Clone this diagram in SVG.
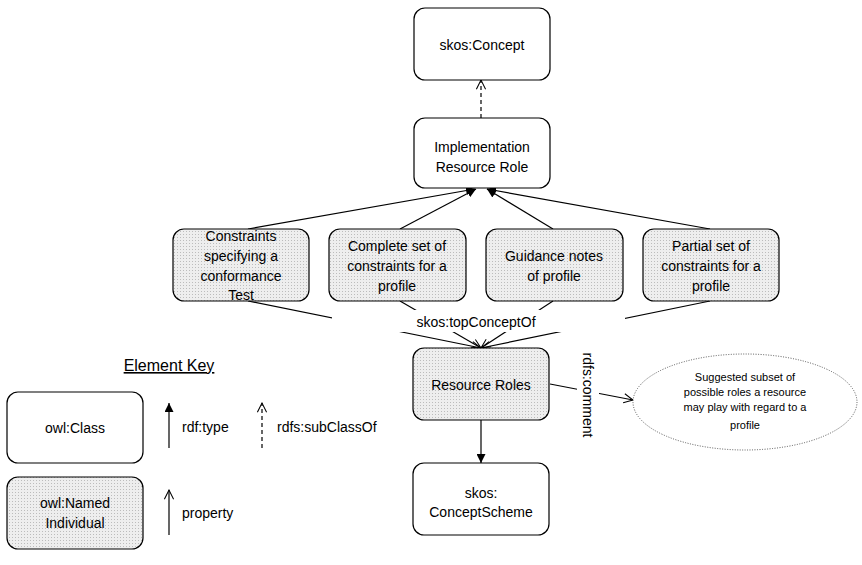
<svg xmlns="http://www.w3.org/2000/svg" width="862" height="565" viewBox="0 0 862 565">
<style>
.box{stroke:#000;stroke-width:1.2;}
.cls{fill:#fff;}
.ind{fill:url(#hatch);}
text{font-family:"Liberation Sans",Arial,sans-serif;font-size:14px;fill:#000;}
.c{text-anchor:middle;}
.ln{stroke:#000;stroke-width:1.2;fill:none;}
.dash{stroke-dasharray:4,3;}
.sm{font-size:11px;}
</style>
<defs>
<pattern id="hatch" width="3" height="3" patternUnits="userSpaceOnUse">
<rect width="3" height="3" fill="#eeeeee"/>
<rect width="1" height="1" fill="#bcbcbc"/>
</pattern>
<marker id="arrF" viewBox="0 0 10 10" refX="10" refY="5" markerWidth="9" markerHeight="9" orient="auto" markerUnits="userSpaceOnUse">
<path d="M0,0 L10,5 L0,10 z" fill="#000"/>
</marker>
<marker id="arrO" viewBox="0 0 12 12" refX="11" refY="6" markerWidth="11" markerHeight="11" orient="auto" markerUnits="userSpaceOnUse">
<path d="M1,1 L11,6 L1,11" fill="none" stroke="#000" stroke-width="1.1"/>
</marker>
</defs>
<rect width="862" height="565" fill="#fff"/>

<g id="connectors">
<line class="ln dash" x1="481" y1="118" x2="481" y2="80" marker-end="url(#arrO)"/>
<line class="ln" x1="248" y1="229" x2="475" y2="189" marker-end="url(#arrF)"/>
<line class="ln" x1="400" y1="229" x2="476" y2="189" marker-end="url(#arrF)"/>
<line class="ln" x1="553" y1="229" x2="487" y2="189" marker-end="url(#arrF)"/>
<line class="ln" x1="710" y1="229" x2="487" y2="189" marker-end="url(#arrF)"/>
<line class="ln" x1="248" y1="301" x2="481" y2="348" marker-end="url(#arrO)"/>
<line class="ln" x1="400" y1="301" x2="481" y2="348" marker-end="url(#arrO)"/>
<line class="ln" x1="553" y1="301" x2="481" y2="348" marker-end="url(#arrO)"/>
<line class="ln" x1="710" y1="301" x2="481" y2="348" marker-end="url(#arrO)"/>
<rect x="332" y="310" width="293" height="22" fill="#fff"/>
<text class="c" x="476" y="327">skos:topConceptOf</text>
<line class="ln" x1="481" y1="420" x2="481" y2="463" marker-end="url(#arrF)"/>
<line class="ln" x1="550" y1="384" x2="633" y2="400" marker-end="url(#arrO)"/>
<rect x="577" y="345" width="22" height="102" fill="#fff"/>
<text class="c" transform="translate(588,395) rotate(90)" x="0" y="5">rdfs:comment</text>
</g>

<g id="skos-concept">
<rect class="box cls" x="414" y="8" width="136" height="72" rx="11"/>
<text class="c" x="482" y="50">skos:Concept</text>
</g>
<g id="impl-resource-role">
<rect class="box cls" x="414" y="118" width="136" height="70" rx="11"/>
<text class="c" x="482" y="152">Implementation</text>
<text class="c" x="482" y="172">Resource Role</text>
</g>
<g id="constraints-test">
<rect class="box ind" x="173" y="229" width="136" height="72" rx="11"/>
<text class="c" x="241" y="241">Constraints</text>
<text class="c" x="241" y="261">specifying a</text>
<text class="c" x="241" y="281">conformance</text>
<text class="c" x="241" y="300">Test</text>
</g>
<g id="complete-set">
<rect class="box ind" x="329" y="229" width="137" height="72" rx="11"/>
<text class="c" x="397" y="251">Complete set of</text>
<text class="c" x="397" y="271">constraints for a</text>
<text class="c" x="397" y="291">profile</text>
</g>
<g id="guidance-notes">
<rect class="box ind" x="486" y="229" width="137" height="72" rx="11"/>
<text class="c" x="554" y="261">Guidance notes</text>
<text class="c" x="554" y="281">of profile</text>
</g>
<g id="partial-set">
<rect class="box ind" x="643" y="229" width="136" height="72" rx="11"/>
<text class="c" x="711" y="251">Partial set of</text>
<text class="c" x="711" y="271">constraints for a</text>
<text class="c" x="711" y="291">profile</text>
</g>
<g id="resource-roles">
<rect class="box ind" x="413" y="348" width="136" height="72" rx="11"/>
<text class="c" x="481" y="390">Resource Roles</text>
</g>
<g id="concept-scheme">
<rect class="box cls" x="413" y="463" width="136" height="72" rx="11"/>
<text class="c" x="481" y="498">skos:</text>
<text class="c" x="481" y="517">ConceptScheme</text>
</g>
<g id="comment-note">
<ellipse cx="745" cy="402" rx="112" ry="48" fill="#fff" stroke="#555" stroke-width="1" stroke-dasharray="1,1.5"/>
<text class="c sm" x="745" y="381">Suggested subset of</text>
<text class="c sm" x="745" y="396">possible roles a resource</text>
<text class="c sm" x="745" y="411">may play with regard to a</text>
<text class="c sm" x="745" y="429">profile</text>
</g>

<g id="element-key">
<text class="c" x="169" y="371" style="font-size:16px;text-decoration:underline">Element Key</text>
<rect class="box cls" x="7" y="392" width="136" height="71" rx="11"/>
<text class="c" x="75" y="433">owl:Class</text>
<rect class="box ind" x="7" y="477" width="136" height="72" rx="11"/>
<text class="c" x="75" y="508">owl:Named</text>
<text class="c" x="75" y="528">Individual</text>
<line class="ln" x1="169" y1="448" x2="169" y2="403" marker-end="url(#arrF)"/>
<text x="182" y="432">rdf:type</text>
<line class="ln dash" x1="262" y1="448" x2="262" y2="403" marker-end="url(#arrO)"/>
<text x="277" y="432">rdfs:subClassOf</text>
<line class="ln" x1="169" y1="535" x2="169" y2="490" marker-end="url(#arrO)"/>
<text x="182" y="518">property</text>
</g>
</svg>
